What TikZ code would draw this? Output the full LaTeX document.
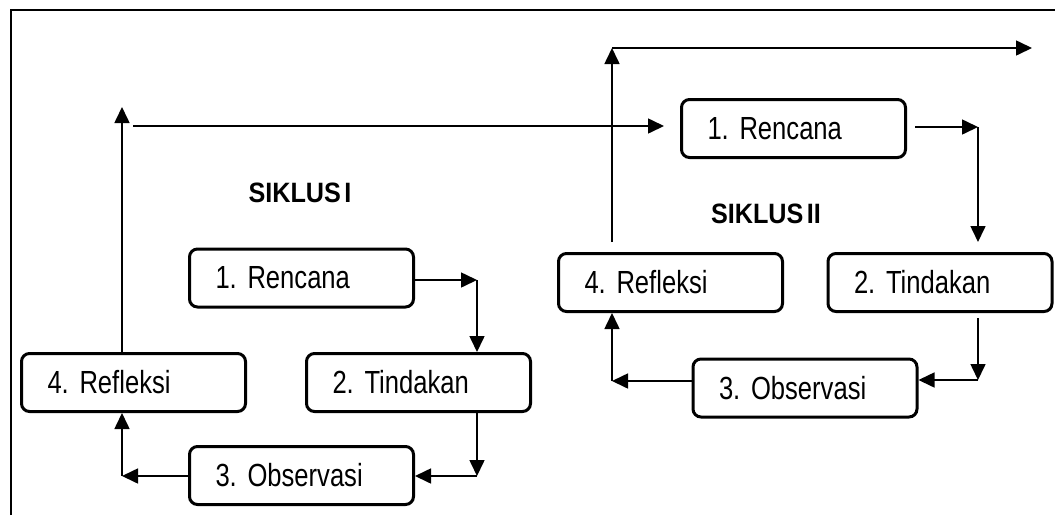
\documentclass[tikz,border=0pt]{standalone}
\usepackage{fontspec}
\setmainfont{Liberation Sans}[FakeStretch=0.8, WordSpace=0.5]
\newfontfamily\judulfont{Liberation Sans}[FakeStretch=0.9, WordSpace=0.5]
\usetikzlibrary{arrows.meta}

\tikzset{
	kotak/.style={draw, line width=3pt, rounded corners=8pt, minimum width=224pt, minimum height=58pt, text width=172pt, inner xsep=26pt, align=left, font=\fontsize{32}{36}\selectfont\frenchspacing},
	judul/.style={font=\judulfont\fontsize{28}{30}\selectfont\bfseries},
	panah/.style={line width=1.6pt, -{Triangle[length=16pt,width=15pt]}}
}

\begin{document}
\begin{tikzpicture}[x=1pt, y=-1pt]
	%%%%% START %%%%%
	\useasboundingbox (0, 0) rectangle (1055, 515);
	\draw[line width=1.5pt] (11, 515) -- (11, 10) -- (1055, 10);
	
	% siklus I
	\node[kotak] (ren1) at (301.5, 278) {1. Rencana};
	\node[kotak] (tin1) at (418.5, 382.5) {2. Tindakan};
	\node[kotak] (ref1) at (133.5, 382.5) {4. Refleksi};
	\node[kotak] (obs1) at (301.5, 475.5) {3. Observasi};
	\node[judul] (sik1) at (300, 193) {SIKLUS I};
	
	\coordinate (a1) at (477, 280);
	\coordinate (b1) at (477, 476);
	\coordinate (c1) at (122, 476);
	\coordinate (d1) at (122, 107);
	\coordinate (e1) at (133, 126);
	
	\draw[panah] (ren1.east |- a1) -- (a1);
	\draw[panah] (a1) -- (a1 |- tin1.north);
	\draw[panah] (b1 |- tin1.south) -- (b1);
	\draw[panah] (b1) -- (obs1.east |- b1);
	\draw[panah] (obs1.west |- c1) -- (c1);
	\draw[panah] (c1) -- (c1 |- ref1.south);
	\draw[panah] (d1 |- ref1.north) -- (d1);
	
	% siklus II
	\node[kotak] (ren2) at (793.5, 128.5) {1. Rencana};
	\node[kotak] (tin2) at (940, 282.5) {2. Tindakan};
	\node[kotak] (ref2) at (670.5, 282.5) {4. Refleksi};
	\node[kotak] (obs2) at (805, 388) {3. Observasi};
	\node[judul] (sik2) at (766, 214) {SIKLUS II};
	
	\draw[panah, shorten >=16pt] (e1) -- (ren2.west |- e1);
	
	\coordinate (a2) at (978, 127);
	\coordinate (b2) at (978, 380);
	\coordinate (c2) at (612, 381);
	\coordinate (d2) at (612, 48);
	\coordinate (e2) at (1032, 48);
	
	\draw[panah, shorten <=8pt] (ren2.east |- a2) -- (a2);
	\draw[panah, shorten >=10pt] (a2) -- (a2 |- tin2.north);
	\draw[panah, shorten <=5pt] (b2 |- tin2.south) -- (b2);
	\draw[panah] (b2) -- (obs2.east |- b2);
	\draw[panah] (obs2.west |- c2) -- (c2);
	\draw[panah] (c2) -- (c2 |- ref2.south);
	\draw[panah, shorten <=10pt] (d2 |- ref2.north) -- (d2);
	\draw[panah] (d2) -- (e2);
	%%%%% END %%%%%
\end{tikzpicture}
\end{document}
